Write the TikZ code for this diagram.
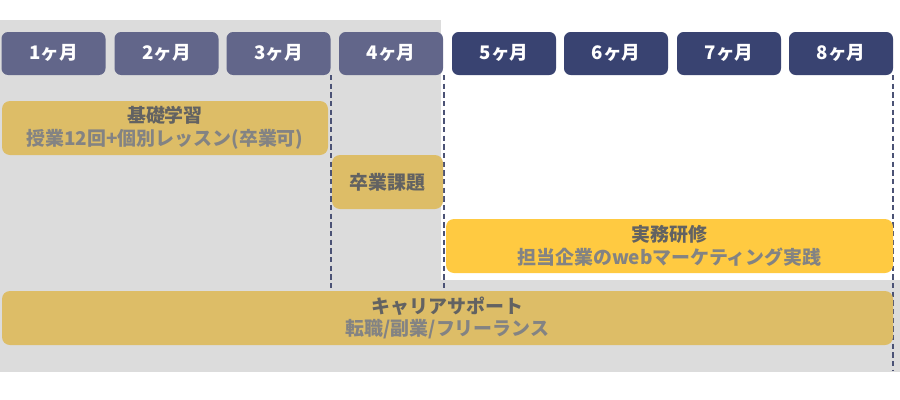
\documentclass[tikz,border=0pt]{standalone}
\usepackage{fontspec}
\setmainfont{Noto Sans CJK JP}
\definecolor{bggrey}{HTML}{DCDCDC}
\definecolor{monthA}{HTML}{62668A}
\definecolor{monthB}{HTML}{394371}
\definecolor{goldA}{HTML}{DDBD67}
\definecolor{goldB}{HTML}{FFCA41}
\definecolor{titleC}{HTML}{626262}
\definecolor{subC}{HTML}{838383}
\definecolor{dashC}{HTML}{4B5275}
\newcommand{\mlabel}[1]{\raisebox{1.8pt}{#1}}
\begin{document}
\begin{tikzpicture}[x=0.75pt,y=-0.75pt,
  month/.style={rounded corners=5pt, minimum width=78pt, minimum height=32.25pt, inner sep=0pt, text=white,
    font=\bfseries\fontsize{14}{16}\selectfont},
  monthold/.style={month, fill=monthA},
  monthnew/.style={month, fill=monthB},
  bar/.style={rounded corners=6pt, inner sep=0pt, align=center,
    font=\bfseries\fontsize{14.2}{17}\selectfont},
  guide/.style={draw=dashC, line width=0.8pt, dash pattern=on 4pt off 2.5pt}]
\useasboundingbox (0,0) rectangle (900,400);
% backgrounds
\fill[bggrey] (0,20) rectangle (441,372);
\fill[bggrey] (441,280) rectangle (900,372);
% guide coordinates
\coordinate (g1t) at (331,75);
\coordinate (g1b) at (331,291);
\coordinate (g2t) at (444,75);
\coordinate (g2b) at (444,291);
\coordinate (g3t) at (893,75);
\coordinate (g3b) at (893,370);
\draw[guide] (g1t) -- (g1b);
\draw[guide] (g2t) -- (g2b);
\draw[guide] (g3t) -- (g3b);
% months
\node[monthold] (m1) at (53.5,53.5) {\mlabel{1ヶ月}};
\node[monthold] (m2) at (166.5,53.5) {\mlabel{2ヶ月}};
\node[monthold] (m3) at (278.5,53.5) {\mlabel{3ヶ月}};
\node[monthold] (m4) at (391,53.5) {\mlabel{4ヶ月}};
\node[monthnew] (m5) at (504,53.5) {\mlabel{5ヶ月}};
\node[monthnew] (m6) at (616,53.5) {\mlabel{6ヶ月}};
\node[monthnew] (m7) at (729,53.5) {\mlabel{7ヶ月}};
\node[monthnew] (m8) at (841,53.5) {\mlabel{8ヶ月}};
% bars
\node[bar, fill=goldA, minimum width=244.5pt, minimum height=40.5pt] (kiso) at (165,128)
  {{\color{titleC}基礎学習}\\{\color{subC}授業12回+個別レッスン(卒業可)}};
\node[bar, fill=goldA, minimum width=83.25pt, minimum height=40.5pt] (sotsu) at (387.5,182)
  {{\color{titleC}卒業課題}};
\node[bar, fill=goldB, minimum width=335.25pt, minimum height=40.5pt] (jitsumu) at (669.5,246)
  {{\color{titleC}実務研修}\\{\color{subC}担当企業のwebマーケティング実践}};
\node[bar, fill=goldA, minimum width=668.25pt, minimum height=40.5pt] (career) at (447.5,318)
  {{\color{titleC}キャリアサポート}\\{\color{subC}転職/副業/フリーランス}};
\end{tikzpicture}
\end{document}
